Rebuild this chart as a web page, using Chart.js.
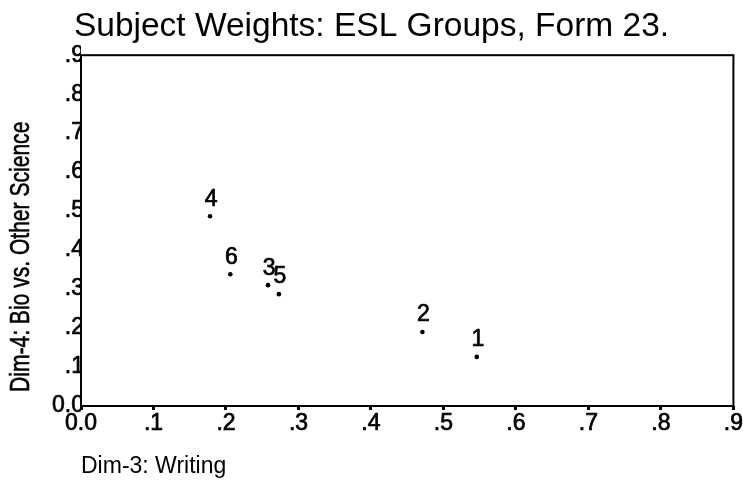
<!DOCTYPE html>
<html>
<head>
<meta charset="utf-8">
<script src="https://cdn.jsdelivr.net/npm/chart.js@4/dist/chart.umd.min.js"></script>
<style>
  html, body { margin: 0; padding: 0; background: #ffffff; }
  #wrap { width: 743px; height: 480px; }
</style>
</head>
<body>
<div id="wrap"><canvas id="c" width="743" height="480"></canvas></div>
<script>
// Group identifiers and their subject weights on two dimensions
const groups = ['1', '2', '3', '4', '5', '6'];
const writingWeights = [0.546, 0.471, 0.258, 0.178, 0.273, 0.206];
const bioVsOtherWeights = [0.126, 0.190, 0.310, 0.487, 0.287, 0.338];
const tickValues = [0, 0.1, 0.2, 0.3, 0.4, 0.5, 0.6, 0.7, 0.8, 0.9];
const yAxisLabel = 'Dim-4: Bio vs. Other Science';

const FONT = "'Liberation Sans', Arial, Helvetica, sans-serif";

function tickText(v) {
  const k = Math.round(v * 10);
  return k === 0 ? '0.0' : '.' + k;
}

// Frame around the plotting area
const framePlugin = {
  id: 'frame',
  afterDraw(chart) {
    const a = chart.chartArea, ctx = chart.ctx;
    ctx.save();
    ctx.strokeStyle = '#000';
    ctx.lineWidth = 2;
    ctx.strokeRect(a.left, a.top, a.right - a.left, a.bottom - a.top);
    ctx.restore();
  }
};

// Narrow, rotated title for the vertical axis, starting at the bottom of the axis
const yTitlePlugin = {
  id: 'yTitle',
  afterDraw(chart) {
    const a = chart.chartArea, ctx = chart.ctx;
    ctx.save();
    ctx.translate(22, a.bottom - 14);
    ctx.rotate(-Math.PI / 2);
    ctx.scale(0.78, 1);
    ctx.fillStyle = '#000';
    ctx.strokeStyle = '#000';
    ctx.lineWidth = 0.6;
    ctx.font = '27px ' + FONT;
    ctx.textAlign = 'left';
    ctx.textBaseline = 'middle';
    ctx.fillText(yAxisLabel, 0, 0);
    ctx.strokeText(yAxisLabel, 0, 0);
    ctx.restore();
  }
};

// Group number written above each point
const pointNamePlugin = {
  id: 'pointNames',
  afterDatasetsDraw(chart) {
    const ctx = chart.ctx;
    const meta = chart.getDatasetMeta(0);
    ctx.save();
    ctx.fillStyle = '#000';
    ctx.strokeStyle = '#000';
    ctx.lineWidth = 0.7;
    ctx.font = '23px ' + FONT;
    ctx.textAlign = 'center';
    ctx.textBaseline = 'middle';
    meta.data.forEach((el, i) => {
      ctx.fillText(groups[i], el.x + 1, el.y - 17);
      ctx.strokeText(groups[i], el.x + 1, el.y - 17);
    });
    ctx.restore();
  }
};

new Chart(document.getElementById('c'), {
  type: 'scatter',
  data: {
    datasets: [{
      data: groups.map((g, i) => ({ x: writingWeights[i], y: bioVsOtherWeights[i] })),
      pointRadius: 2.3,
      pointHoverRadius: 2.3,
      pointBackgroundColor: '#000',
      pointBorderWidth: 0
    }]
  },
  options: {
    responsive: false,
    animation: false,
    layout: { padding: 0 },
    plugins: {
      legend: { display: false },
      tooltip: { enabled: false },
      title: {
        display: true,
        text: 'Subject Weights: ESL Groups, Form 23.',
        color: '#000',
        font: { family: FONT, size: 33.5, weight: 'normal', lineHeight: 1.2 },
        padding: { top: 7, bottom: 8 }
      }
    },
    scales: {
      x: {
        type: 'linear',
        min: 0,
        max: 0.9,
        afterBuildTicks(scale) { scale.ticks = tickValues.map(v => ({ value: v })); },
        afterFit(scale) { scale.height = 74; },
        border: { display: false },
        grid: { display: true, drawOnChartArea: false, drawTicks: true, tickLength: 4, tickWidth: 3, tickColor: '#000' },
        ticks: {
          color: '#000',
          padding: 0,
          maxRotation: 0,
          autoSkip: false,
          textStrokeColor: '#000',
          textStrokeWidth: 0.7,
          font: { family: FONT, size: 23 },
          callback: v => tickText(v)
        },
        title: {
          display: true,
          text: 'Dim-3: Writing',
          align: 'start',
          color: '#000',
          font: { family: FONT, size: 23 },
          padding: { top: 5, bottom: 0 }
        }
      },
      y: {
        type: 'linear',
        min: 0,
        max: 0.9,
        afterBuildTicks(scale) { scale.ticks = tickValues.map(v => ({ value: v })); },
        afterFit(scale) { scale.width = 81; },
        border: { display: false },
        grid: { display: false, drawTicks: false, tickLength: 0 },
        ticks: {
          color: '#000',
          padding: -3,
          autoSkip: false,
          textStrokeColor: '#000',
          textStrokeWidth: 0.7,
          font: { family: FONT, size: 23 },
          callback: v => tickText(v)
        },
        title: { display: false }
      }
    }
  },
  plugins: [framePlugin, yTitlePlugin, pointNamePlugin]
});
</script>
</body>
</html>
